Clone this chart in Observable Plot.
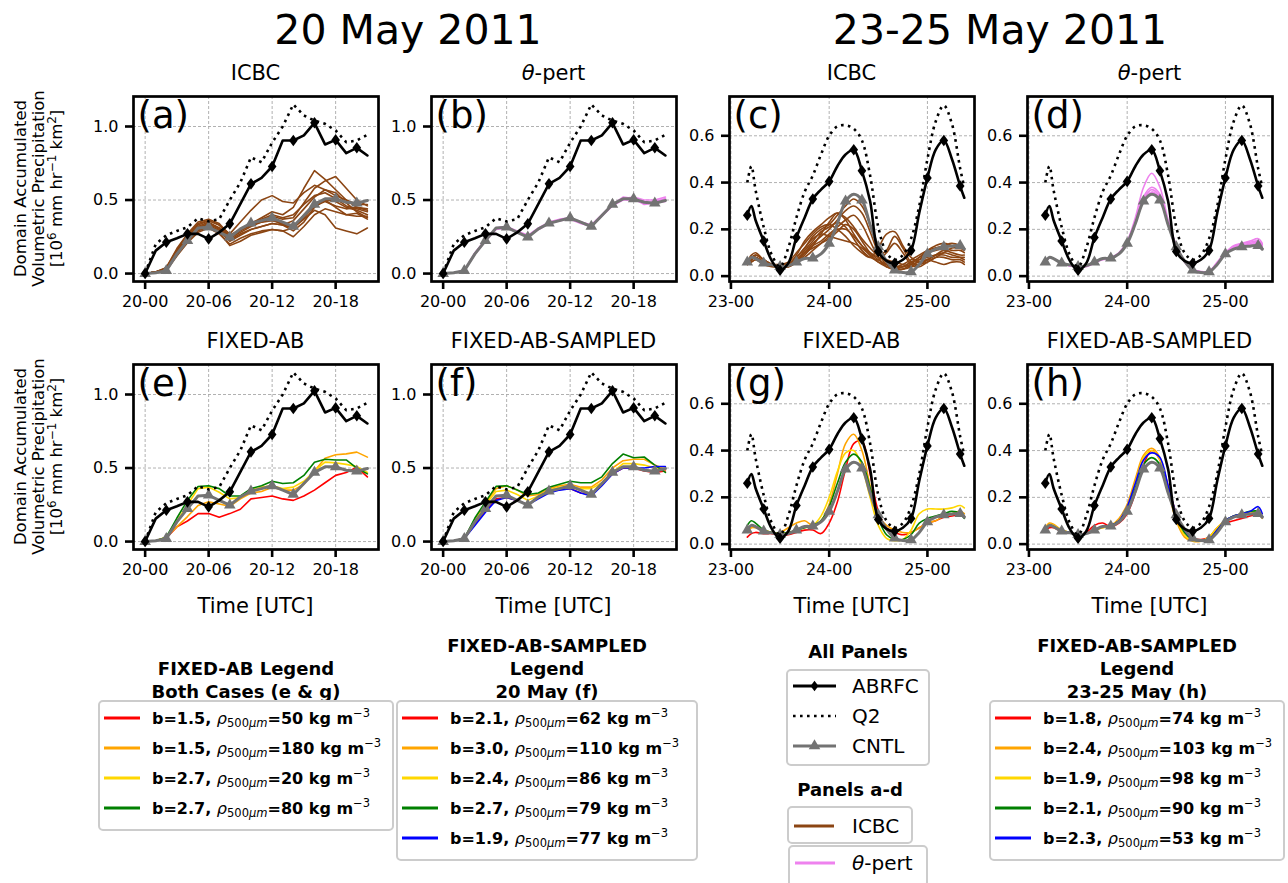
<!DOCTYPE html>
<html>
<head>
<meta charset="utf-8">
<script src="https://cdn.jsdelivr.net/npm/d3@7"></script>
<script src="https://cdn.jsdelivr.net/npm/@observablehq/plot@0.6"></script>
<style>
  body { margin: 0; background: #fff; }
  #fig { position: relative; width: 1288px; height: 883px; overflow: hidden; background: #fff; font-family: "DejaVu Sans", sans-serif; }
  #fig > svg, #fig > div { position: absolute; }
</style>
</head>
<body>
<div id="fig"></div>
<script>
// ---------- 20 May 2011 (hourly, hours after 20-00 UTC) ----------
const hours20 = [0,1,2,3,4,5,6,7,8,9,10,11,12,13,14,15,16,17,18,19,20,21];
const tickHours20 = [0,6,12,18];
const tickLabels20 = ["20-00","20-06","20-12","20-18"];
const abrfcMarks20 = [0,2,4,6,8,10,12,14,16,18,20];
const cntlMarks20 = [0,2,4,6,8,10,12,14,16,18,20];

const abrfc20 = [0,0.156,0.213,0.24,0.27,0.27,0.236,0.28,0.338,0.474,0.61,0.65,0.728,0.905,0.905,0.94,1.025,0.878,0.909,0.819,0.855,0.803];
const q2_20   = [0,0.2,0.26,0.29,0.315,0.376,0.355,0.37,0.5,0.62,0.79,0.757,0.89,1.0,1.15,1.075,1.04,1.018,0.973,0.893,0.905,0.943];
const cntl20  = [0,0.005,0.02,0.134,0.224,0.31,0.315,0.28,0.247,0.304,0.342,0.36,0.379,0.35,0.32,0.395,0.47,0.508,0.508,0.485,0.478,0.497];

const icbc20 = [
  [0,0.01,0.03,0.15,0.25,0.33,0.36,0.33,0.25,0.30,0.34,0.38,0.42,0.40,0.45,0.58,0.70,0.64,0.57,0.50,0.45,0.43],
  [0,0.01,0.03,0.14,0.24,0.31,0.34,0.30,0.24,0.29,0.33,0.36,0.39,0.37,0.38,0.48,0.58,0.63,0.66,0.58,0.50,0.46],
  [0,0.01,0.04,0.16,0.26,0.34,0.36,0.33,0.27,0.35,0.43,0.50,0.53,0.49,0.48,0.55,0.60,0.57,0.53,0.50,0.47,0.47],
  [0,0.01,0.03,0.13,0.22,0.29,0.32,0.28,0.19,0.22,0.26,0.28,0.30,0.29,0.31,0.37,0.43,0.40,0.31,0.29,0.27,0.31],
  [0,0.01,0.03,0.14,0.23,0.30,0.33,0.29,0.23,0.27,0.30,0.32,0.34,0.33,0.36,0.44,0.52,0.57,0.55,0.48,0.42,0.38],
  [0,0.01,0.03,0.15,0.24,0.32,0.35,0.31,0.24,0.28,0.32,0.35,0.37,0.33,0.29,0.35,0.45,0.50,0.49,0.45,0.43,0.40],
  [0,0.01,0.02,0.12,0.21,0.28,0.31,0.27,0.20,0.24,0.27,0.29,0.30,0.29,0.25,0.32,0.40,0.44,0.42,0.40,0.41,0.37],
  [0,0.01,0.03,0.14,0.24,0.31,0.34,0.31,0.25,0.30,0.34,0.37,0.40,0.38,0.40,0.47,0.53,0.55,0.51,0.46,0.44,0.42],
  [0,0.01,0.04,0.17,0.27,0.35,0.37,0.34,0.26,0.30,0.33,0.35,0.36,0.34,0.31,0.38,0.46,0.49,0.46,0.44,0.45,0.44],
  [0,0.01,0.03,0.14,0.23,0.30,0.32,0.29,0.22,0.26,0.30,0.32,0.34,0.33,0.31,0.40,0.48,0.50,0.45,0.40,0.39,0.39]
];
const tpert20 = [
  [0,0.005,0.02,0.14,0.23,0.31,0.32,0.29,0.26,0.31,0.35,0.37,0.38,0.35,0.33,0.40,0.47,0.51,0.52,0.50,0.50,0.52],
  [0,0.005,0.02,0.13,0.22,0.30,0.31,0.28,0.25,0.30,0.34,0.36,0.37,0.34,0.32,0.39,0.46,0.50,0.50,0.48,0.49,0.51],
  [0,0.005,0.02,0.14,0.23,0.31,0.32,0.28,0.25,0.30,0.34,0.36,0.38,0.35,0.33,0.40,0.47,0.52,0.51,0.47,0.48,0.49]
];
// FIXED-AB members (e): red, orange, gold, green
const fixedAb20 = [
  [0,0.005,0.025,0.10,0.14,0.19,0.19,0.165,0.19,0.22,0.29,0.30,0.31,0.29,0.28,0.31,0.35,0.40,0.45,0.47,0.505,0.44],
  [0,0.005,0.03,0.10,0.17,0.245,0.27,0.255,0.24,0.29,0.33,0.34,0.37,0.35,0.35,0.39,0.48,0.567,0.59,0.596,0.608,0.574],
  [0,0.005,0.03,0.14,0.25,0.36,0.37,0.335,0.29,0.30,0.35,0.37,0.38,0.36,0.37,0.41,0.48,0.54,0.535,0.525,0.51,0.47],
  [0,0.005,0.03,0.16,0.28,0.374,0.38,0.36,0.31,0.31,0.36,0.38,0.41,0.395,0.40,0.45,0.54,0.56,0.555,0.555,0.50,0.46]
];
// FIXED-AB-SAMPLED members (f): red, orange, gold, green, blue
const sampled20 = [
  [0,0.005,0.02,0.12,0.21,0.29,0.30,0.28,0.25,0.30,0.34,0.355,0.36,0.33,0.32,0.39,0.46,0.50,0.50,0.48,0.47,0.48],
  [0,0.005,0.02,0.15,0.26,0.36,0.38,0.35,0.31,0.32,0.36,0.38,0.39,0.37,0.37,0.42,0.50,0.55,0.56,0.56,0.52,0.49],
  [0,0.005,0.02,0.14,0.25,0.34,0.35,0.32,0.28,0.31,0.35,0.37,0.37,0.36,0.36,0.40,0.47,0.53,0.53,0.52,0.50,0.49],
  [0,0.005,0.02,0.16,0.27,0.375,0.38,0.35,0.32,0.33,0.37,0.39,0.41,0.40,0.40,0.44,0.53,0.595,0.57,0.575,0.52,0.47],
  [0,0.005,0.02,0.11,0.20,0.28,0.30,0.28,0.25,0.29,0.33,0.35,0.36,0.33,0.31,0.38,0.46,0.50,0.50,0.50,0.51,0.51]
];

// ---------- 23-25 May 2011 (hours after 23-00 UTC) ----------
const hours23 = [4,5,6,8,10,12,14,16,18,20,22,24,26,28,30,32,34,36,38,40,42,44,46,48,50,52,54,56,57];
const tickHours23 = [0,24,48];
const tickLabels23 = ["23-00","24-00","25-00"];
const abrfcMarks23 = [4,8,12,16,20,24,30,32,36,40,44,48,52,56];
const cntlMarks23 = [4,8,12,16,20,24,28,32,36,40,44,48,52,56];

const abrfc23 = [0.26,0.30,0.24,0.15,0.065,0.025,0.055,0.165,0.25,0.33,0.37,0.405,0.47,0.52,0.54,0.45,0.32,0.105,0.065,0.055,0.07,0.11,0.27,0.42,0.54,0.58,0.50,0.385,0.335];
const q2_23   = [0.40,0.47,0.37,0.21,0.09,0.04,0.12,0.25,0.36,0.43,0.52,0.60,0.64,0.645,0.63,0.58,0.43,0.21,0.10,0.07,0.09,0.16,0.30,0.50,0.66,0.73,0.65,0.46,0.38];
const cntl23  = [0.06,0.08,0.075,0.055,0.048,0.04,0.045,0.06,0.075,0.077,0.095,0.14,0.225,0.32,0.35,0.325,0.22,0.125,0.065,0.025,0.015,0.018,0.05,0.095,0.115,0.125,0.128,0.13,0.115];

const icbc23 = [
  [0.06,0.08,0.08,0.06,0.05,0.04,0.05,0.08,0.12,0.17,0.20,0.22,0.26,0.30,0.33,0.30,0.22,0.12,0.06,0.04,0.05,0.07,0.09,0.11,0.12,0.12,0.11,0.11,0.10],
  [0.05,0.07,0.09,0.07,0.05,0.04,0.05,0.09,0.15,0.19,0.22,0.25,0.27,0.25,0.21,0.16,0.12,0.09,0.11,0.17,0.12,0.06,0.05,0.07,0.09,0.10,0.09,0.08,0.07],
  [0.06,0.09,0.10,0.07,0.05,0.04,0.04,0.06,0.10,0.14,0.17,0.20,0.24,0.28,0.30,0.27,0.19,0.10,0.05,0.03,0.03,0.05,0.08,0.10,0.12,0.13,0.14,0.13,0.12],
  [0.05,0.06,0.07,0.06,0.05,0.04,0.05,0.07,0.10,0.12,0.14,0.16,0.19,0.22,0.20,0.15,0.10,0.07,0.05,0.04,0.04,0.05,0.06,0.07,0.06,0.05,0.06,0.06,0.05],
  [0.06,0.08,0.08,0.06,0.05,0.05,0.06,0.10,0.14,0.18,0.21,0.22,0.20,0.17,0.13,0.10,0.08,0.12,0.18,0.19,0.13,0.08,0.06,0.07,0.09,0.11,0.10,0.09,0.09],
  [0.05,0.07,0.08,0.06,0.05,0.04,0.04,0.06,0.09,0.13,0.18,0.23,0.27,0.24,0.18,0.13,0.09,0.06,0.04,0.03,0.03,0.04,0.07,0.10,0.11,0.12,0.13,0.12,0.11],
  [0.06,0.08,0.09,0.07,0.05,0.04,0.05,0.07,0.11,0.15,0.19,0.21,0.23,0.21,0.16,0.11,0.08,0.07,0.10,0.14,0.10,0.05,0.04,0.06,0.08,0.08,0.07,0.07,0.06],
  [0.05,0.06,0.07,0.05,0.04,0.04,0.05,0.08,0.12,0.16,0.18,0.17,0.16,0.15,0.14,0.12,0.09,0.06,0.05,0.04,0.04,0.06,0.08,0.11,0.13,0.14,0.13,0.12,0.12],
  [0.06,0.08,0.08,0.06,0.05,0.05,0.05,0.07,0.10,0.13,0.15,0.18,0.21,0.24,0.26,0.22,0.15,0.08,0.04,0.03,0.04,0.06,0.07,0.08,0.09,0.09,0.08,0.08,0.08],
  [0.05,0.07,0.08,0.06,0.05,0.04,0.04,0.06,0.08,0.11,0.14,0.17,0.20,0.20,0.17,0.13,0.10,0.08,0.07,0.06,0.05,0.04,0.05,0.06,0.08,0.10,0.12,0.12,0.12]
];
const tpert23 = [
  [0.06,0.08,0.075,0.055,0.045,0.04,0.045,0.06,0.075,0.078,0.10,0.15,0.25,0.38,0.44,0.38,0.24,0.13,0.06,0.025,0.015,0.02,0.06,0.10,0.125,0.14,0.145,0.15,0.135],
  [0.06,0.08,0.075,0.055,0.045,0.04,0.04,0.055,0.07,0.075,0.095,0.14,0.23,0.34,0.38,0.35,0.23,0.13,0.065,0.025,0.015,0.02,0.055,0.10,0.13,0.14,0.15,0.16,0.14],
  [0.06,0.08,0.075,0.055,0.045,0.04,0.045,0.06,0.075,0.08,0.10,0.145,0.235,0.33,0.37,0.34,0.23,0.13,0.065,0.03,0.02,0.02,0.05,0.095,0.12,0.13,0.135,0.14,0.125],
  [0.06,0.08,0.075,0.055,0.045,0.04,0.045,0.06,0.072,0.078,0.098,0.142,0.23,0.32,0.36,0.33,0.225,0.13,0.065,0.028,0.018,0.02,0.055,0.10,0.125,0.135,0.14,0.145,0.13]
];
const fixedAb23 = [
  [0.03,0.045,0.05,0.045,0.045,0.04,0.04,0.05,0.06,0.06,0.045,0.09,0.18,0.32,0.43,0.44,0.30,0.14,0.07,0.05,0.04,0.05,0.07,0.09,0.10,0.115,0.12,0.13,0.12],
  [0.05,0.07,0.07,0.06,0.05,0.05,0.07,0.09,0.10,0.08,0.10,0.17,0.30,0.43,0.47,0.40,0.25,0.12,0.08,0.06,0.05,0.05,0.07,0.09,0.10,0.12,0.13,0.14,0.13],
  [0.06,0.08,0.075,0.06,0.05,0.045,0.05,0.06,0.07,0.08,0.12,0.20,0.31,0.39,0.40,0.33,0.20,0.08,0.025,0.015,0.02,0.06,0.13,0.15,0.15,0.15,0.155,0.165,0.155],
  [0.08,0.10,0.09,0.06,0.05,0.045,0.05,0.06,0.07,0.08,0.10,0.16,0.26,0.35,0.385,0.35,0.24,0.11,0.04,0.02,0.02,0.04,0.09,0.11,0.12,0.13,0.14,0.13,0.11]
];
const sampled23 = [
  [0.06,0.07,0.07,0.055,0.05,0.04,0.05,0.08,0.09,0.075,0.09,0.13,0.22,0.34,0.40,0.36,0.25,0.13,0.06,0.025,0.02,0.03,0.07,0.09,0.10,0.11,0.12,0.13,0.12],
  [0.07,0.09,0.085,0.06,0.05,0.04,0.045,0.06,0.07,0.08,0.11,0.17,0.28,0.38,0.41,0.37,0.23,0.10,0.03,0.012,0.012,0.03,0.07,0.10,0.12,0.13,0.135,0.13,0.11],
  [0.065,0.085,0.08,0.06,0.05,0.04,0.045,0.06,0.07,0.08,0.10,0.16,0.26,0.37,0.40,0.36,0.23,0.11,0.04,0.015,0.015,0.03,0.07,0.10,0.12,0.13,0.135,0.135,0.12],
  [0.06,0.08,0.075,0.055,0.05,0.04,0.045,0.06,0.075,0.08,0.10,0.15,0.24,0.34,0.37,0.34,0.23,0.12,0.05,0.02,0.015,0.02,0.06,0.10,0.12,0.13,0.14,0.14,0.12],
  [0.06,0.08,0.075,0.055,0.05,0.04,0.045,0.06,0.075,0.08,0.10,0.16,0.26,0.36,0.39,0.37,0.25,0.13,0.06,0.02,0.015,0.02,0.06,0.10,0.12,0.13,0.14,0.16,0.13]
];

// ---------- legend entries ----------
const fixedAbColors = ["#ff0000","#ffa500","#ffd700","#008000"];
const sampledColors = ["#ff0000","#ffa500","#ffd700","#008000","#0000ff"];
const fixedAbParams = [["1.5","50"],["1.5","180"],["2.7","20"],["2.7","80"]];
const sampled20Params = [["2.1","62"],["3.0","110"],["2.4","86"],["2.7","79"],["1.9","77"]];
const sampled23Params = [["1.8","74"],["2.4","103"],["1.9","98"],["2.1","90"],["2.3","53"]];

const ICBC_COLOR = "#8b4513", TPERT_COLOR = "#ee82ee", CNTL_COLOR = "#737373";

// ---------- panel drawing ----------
const FW = 245, FH = 185, ML = 60, MR = 10, MT = 8, MB = 42;
const FONT = "DejaVu Sans";
const Q2_DASH = "2.6,4.4";

// slender filled diamond used for the ABRFC markers
const thinDiamond = {
  draw(ctx, size) {
    const s = Math.sqrt(size), h = s * 0.64, w = s * 0.48;
    ctx.moveTo(0, -h); ctx.lineTo(w, 0); ctx.lineTo(0, h); ctx.lineTo(-w, 0); ctx.closePath();
  }
};

function rows(hours, vals, key) { return vals.map((v, i) => ({t: hours[i], v, k: key})); }

function panel(opts) {
  const first = opts.day === 20;
  const hours = first ? hours20 : hours23;
  const abrfc = first ? abrfc20 : abrfc23;
  const q2 = first ? q2_20 : q2_23;
  const cntl = first ? cntl20 : cntl23;
  const aMarks = first ? abrfcMarks20 : abrfcMarks23;
  const cMarks = first ? cntlMarks20 : cntlMarks23;
  const ticks = first ? tickHours20 : tickHours23;
  const labels = first ? tickLabels20 : tickLabels23;
  const curve = first ? "linear" : "catmull-rom";
  const yTicks = first ? [0, 0.5, 1.0] : [0, 0.2, 0.4, 0.6];

  const ens = [];
  opts.members.forEach((vals, i) => {
    const color = Array.isArray(opts.color) ? opts.color[i] : opts.color;
    ens.push(Plot.line(rows(hours, vals, "m" + i), {x: "t", y: "v", stroke: color, strokeWidth: 1.6, curve}));
  });
  const abrfcRows = rows(hours, abrfc, "abrfc");
  const cntlRows = rows(hours, cntl, "cntl");

  const chart = Plot.plot({
    width: ML + FW + MR,
    height: MT + FH + MB,
    marginLeft: ML, marginRight: MR, marginTop: MT, marginBottom: MB,
    style: {fontFamily: FONT, fontSize: "16px", color: "black", background: "transparent", overflow: "visible"},
    x: {domain: first ? [-1.1, 22.05] : [-0.35, 59.5]},
    y: {domain: first ? [-0.054, 1.204] : [-0.023, 0.768]},
    marks: [
      Plot.gridX(ticks, {stroke: "#a8a8a8", strokeOpacity: 1, strokeWidth: 0.9, strokeDasharray: "3,2"}),
      Plot.gridY(yTicks, {stroke: "#a8a8a8", strokeOpacity: 1, strokeWidth: 0.9, strokeDasharray: "3,2"}),
      ...ens,
      Plot.line(cntlRows, {x: "t", y: "v", stroke: CNTL_COLOR, strokeWidth: 3, curve}),
      Plot.dot(cntlRows.filter(d => cMarks.includes(d.t)), {x: "t", y: "v", symbol: "triangle", fill: CNTL_COLOR, r: 4.3}),
      Plot.line(rows(hours, q2, "q2"), {x: "t", y: "v", stroke: "black", strokeWidth: 2.6, strokeDasharray: Q2_DASH, strokeLinecap: "butt", curve}),
      Plot.line(abrfcRows, {x: "t", y: "v", stroke: "black", strokeWidth: 2.6, curve}),
      Plot.dot(abrfcRows.filter(d => aMarks.includes(d.t)), {x: "t", y: "v", symbol: thinDiamond, fill: "black", r: 5.1}),
      Plot.frame({stroke: "black", strokeWidth: 2.7}),
      Plot.axisX(ticks, {tickFormat: d => labels[ticks.indexOf(d)], tickSize: 8, tickPadding: 6, strokeWidth: 2.6, fontSize: 16, label: null}),
      Plot.axisY(yTicks, {tickFormat: d3.format(".1f"), tickSize: 8, tickPadding: 7, strokeWidth: 2.6, fontSize: 16, label: null}),
      Plot.text([opts.label], {frameAnchor: "top-left", textAnchor: "start", lineAnchor: "top", dx: 4, dy: 5, fontSize: 37, fill: "black"})
    ]
  });
  chart.style.left = (opts.left - ML) + "px";
  chart.style.top = (opts.top - MT) + "px";
  document.getElementById("fig").appendChild(chart);
}

const colsX = [133, 431, 729, 1027];
const rowsY = [96, 364];

panel({day: 20, left: colsX[0], top: rowsY[0], label: "(a)", members: icbc20, color: ICBC_COLOR});
panel({day: 20, left: colsX[1], top: rowsY[0], label: "(b)", members: tpert20, color: TPERT_COLOR});
panel({day: 23, left: colsX[2], top: rowsY[0], label: "(c)", members: icbc23, color: ICBC_COLOR});
panel({day: 23, left: colsX[3], top: rowsY[0], label: "(d)", members: tpert23, color: TPERT_COLOR});
panel({day: 20, left: colsX[0], top: rowsY[1], label: "(e)", members: fixedAb20, color: fixedAbColors});
panel({day: 20, left: colsX[1], top: rowsY[1], label: "(f)", members: sampled20, color: sampledColors});
panel({day: 23, left: colsX[2], top: rowsY[1], label: "(g)", members: fixedAb23, color: fixedAbColors});
panel({day: 23, left: colsX[3], top: rowsY[1], label: "(h)", members: sampled23, color: sampledColors});

// ---------- titles, axis labels and legends ----------
const svg = d3.select("#fig").append("svg")
  .attr("width", 1288).attr("height", 883)
  .style("left", "0px").style("top", "0px").style("pointer-events", "none")
  .attr("font-family", FONT).attr("fill", "black");

svg.append("text").attr("x", 408).attr("y", 44).attr("text-anchor", "middle").attr("font-size", 41).text("20 May 2011");
svg.append("text").attr("x", 1000).attr("y", 44).attr("text-anchor", "middle").attr("font-size", 41).text("23-25 May 2011");

const panelTitles = [["ICBC", false], ["-pert", true], ["ICBC", false], ["-pert", true],
                     ["FIXED-AB", false], ["FIXED-AB-SAMPLED", false], ["FIXED-AB", false], ["FIXED-AB-SAMPLED", false]];
panelTitles.forEach(([txt, theta], i) => {
  const cx = colsX[i % 4] + FW / 2, y = rowsY[Math.floor(i / 4)] - 16;
  const t = svg.append("text").attr("x", cx).attr("y", y).attr("text-anchor", "middle").attr("font-size", 21);
  if (theta) t.append("tspan").attr("font-style", "italic").text("θ");
  t.append("tspan").text(txt);
});

// three-line y-axis label, units line with raised exponents
rowsY.forEach(top => {
  const cy = top + FH / 2;
  const place = j => `translate(${26 + j * 18},${cy}) rotate(-90)`;
  svg.append("text").attr("transform", place(0)).attr("text-anchor", "middle").attr("font-size", 16.5).text("Domain Accumulated");
  svg.append("text").attr("transform", place(1)).attr("text-anchor", "middle").attr("font-size", 16.5).text("Volumetric Precipitation");
  const u = svg.append("text").attr("transform", place(2)).attr("text-anchor", "middle").attr("font-size", 16.5);
  u.append("tspan").text("[10");
  u.append("tspan").attr("font-size", 12).attr("dy", -6).text("6");
  u.append("tspan").attr("dy", 6).text(" mm hr");
  u.append("tspan").attr("font-size", 12).attr("dy", -6).text("−1");
  u.append("tspan").attr("dy", 6).text(" km");
  u.append("tspan").attr("font-size", 12).attr("dy", -6).text("2");
  u.append("tspan").attr("dy", 6).text("]");
});

colsX.forEach(x => {
  svg.append("text").attr("x", x + FW / 2).attr("y", 613).attr("text-anchor", "middle").attr("font-size", 21).text("Time [UTC]");
});

function box(x, y, w, h) {
  svg.append("rect").attr("x", x).attr("y", y).attr("width", w).attr("height", h)
    .attr("rx", 4).attr("fill", "white").attr("stroke", "#cccccc").attr("stroke-width", 2);
}
function titleLines(cx, baselines, lines) {
  lines.forEach((l, i) => svg.append("text").attr("x", cx).attr("y", baselines[i])
    .attr("text-anchor", "middle").attr("font-size", 18).attr("font-weight", "bold").text(l));
}
function sample(x1, x2, y, color) {
  svg.append("line").attr("x1", x1).attr("x2", x2).attr("y1", y).attr("y2", y)
    .attr("stroke", color).attr("stroke-width", 3);
}
function paramEntry(x, y, b, rho) {
  const t = svg.append("text").attr("x", x).attr("y", y + 6).attr("font-size", 16).attr("font-weight", "bold");
  t.append("tspan").text(`b=${b}, `);
  t.append("tspan").attr("font-style", "italic").attr("font-weight", "normal").text("ρ");
  t.append("tspan").attr("font-size", 11.5).attr("font-weight", "normal").attr("dy", 3).text("500");
  t.append("tspan").attr("font-size", 11.5).attr("font-weight", "normal").attr("font-style", "italic").text("μm");
  t.append("tspan").attr("dy", -3).text(`=${rho} kg m`);
  t.append("tspan").attr("font-size", 11.5).attr("font-weight", "normal").attr("dy", -7).text("−3");
}
function paramLegend(x, w, params, colors) {
  const y0 = 701, rowH = 30;
  box(x, y0, w, params.length * rowH + 9);
  params.forEach(([b, rho], i) => {
    const cy = 718 + i * rowH;
    sample(x + 5, x + 41, cy, colors[i]);
    paramEntry(x + 53, cy, b, rho);
  });
}

titleLines(246, [675, 698], ["FIXED-AB Legend", "Both Cases (e & g)"]);
paramLegend(99, 294, fixedAbParams, fixedAbColors);

titleLines(547, [652, 675, 698], ["FIXED-AB-SAMPLED", "Legend", "20 May (f)"]);
paramLegend(397, 300, sampled20Params, sampledColors);

titleLines(1137, [652, 675, 698], ["FIXED-AB-SAMPLED", "Legend", "23-25 May (h)"]);
paramLegend(990, 294, sampled23Params, sampledColors);

// reference series legend
titleLines(858, [658], ["All Panels"]);
box(787, 670, 142, 95);
sample(793, 836, 686, "black");
svg.append("path").attr("d", d3.symbol(thinDiamond, 66)()).attr("transform", "translate(814.5,686)").attr("fill", "black");
svg.append("line").attr("x1", 793).attr("x2", 836).attr("y1", 716).attr("y2", 716)
  .attr("stroke", "black").attr("stroke-width", 2.6).attr("stroke-dasharray", Q2_DASH);
sample(793, 836, 746, CNTL_COLOR);
svg.append("path").attr("d", d3.symbol(d3.symbolTriangle, 58)()).attr("transform", "translate(814.5,746)").attr("fill", CNTL_COLOR);
[["ABRFC", 686], ["Q2", 716], ["CNTL", 746]].forEach(([l, y]) =>
  svg.append("text").attr("x", 852).attr("y", y + 7).attr("font-size", 20).text(l));

titleLines(850, [796], ["Panels a-d"]);
box(788, 807, 124, 36);
sample(794, 834, 826, ICBC_COLOR);
svg.append("text").attr("x", 852).attr("y", 833).attr("font-size", 20).text("ICBC");
box(789, 846, 138, 40);
sample(795, 835, 863, TPERT_COLOR);
const tp = svg.append("text").attr("x", 852).attr("y", 870).attr("font-size", 20);
tp.append("tspan").attr("font-style", "italic").text("θ");
tp.append("tspan").text("-pert");
</script>
</body>
</html>
